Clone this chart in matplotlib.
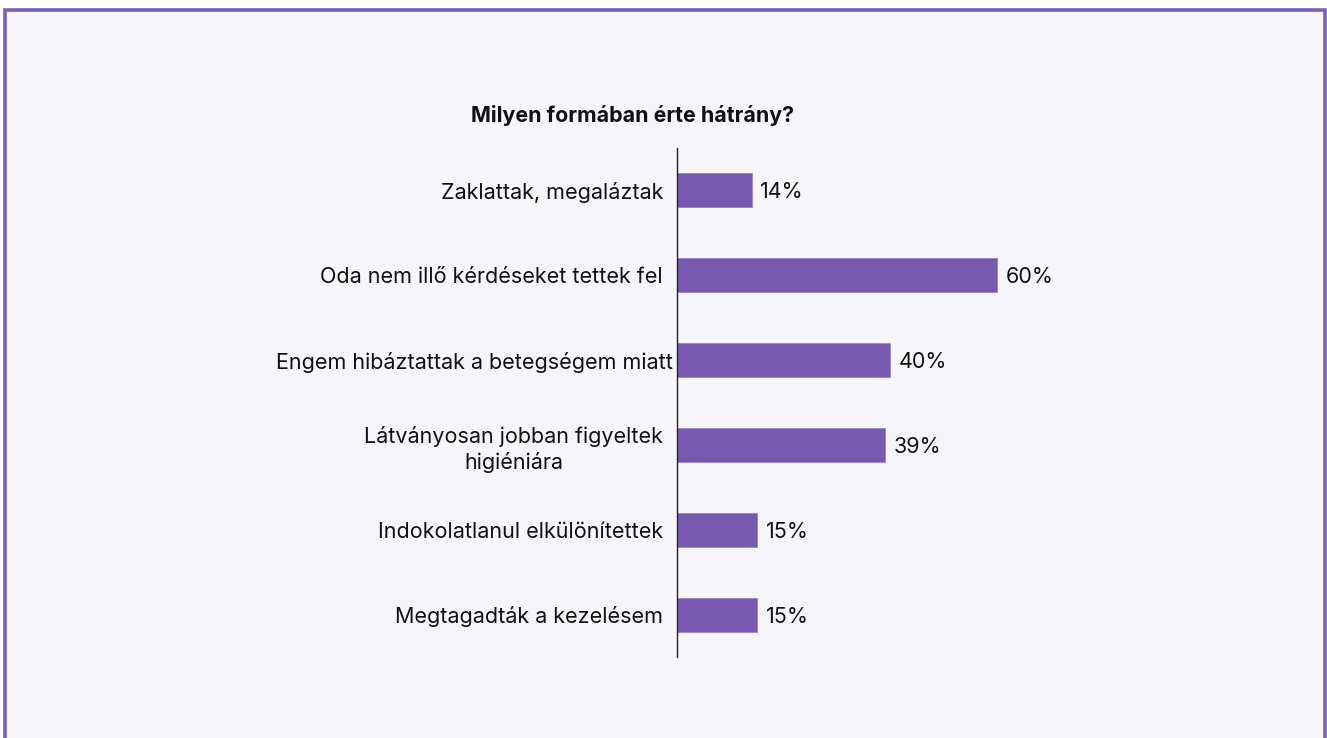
import matplotlib
matplotlib.use("Agg")
import matplotlib.pyplot as plt
from matplotlib.patches import Rectangle
from matplotlib.transforms import ScaledTranslation

categories = [
    "Zaklattak, megaláztak",
    "Oda nem illő kérdéseket tettek fel",
    "Engem hibáztattak a betegségem miatt",
    "Látványosan jobban figyeltek\nhigiéniára",
    "Indokolatlanul elkülönítettek",
    "Megtagadták a kezelésem",
]
values = [14, 60, 40, 39, 15, 15]
title = "Milyen formában érte hátrány?"

BG = "#f6f5fa"
PURPLE = "#7759b0"
FRAME = "#7b5fb6"

plt.rcParams["font.family"] = ["Inter", "DejaVu Sans"]

W, H = 1327, 738
fig = plt.figure(figsize=(W / 100, H / 100), dpi=100, facecolor="white")

# panel background with purple frame (left, top, right edges)
bg = fig.add_axes([0, 0, 1, 1], zorder=-10)
bg.set_axis_off()
bg.set_xlim(0, W)
bg.set_ylim(H, 0)
bg.add_patch(Rectangle((5, 10), 1320, H, facecolor=BG, edgecolor="none"))
bg.plot([5, 5, 1325, 1325], [H + 5, 10, 10, H + 5], color=FRAME, lw=2.6,
        solid_joinstyle="miter")

ax_left, ax_top, ax_bot = 677, 148, 657
px_per_unit = 5.33
xmax = 100
ax = fig.add_axes([ax_left / W, (H - ax_bot) / H, xmax * px_per_unit / W, (ax_bot - ax_top) / H])
ax.set_facecolor("none")

y = list(range(len(categories)))
ax.barh(y, values, height=0.4, color=PURPLE, edgecolor="#9a80cc", linewidth=0.6)
ax.set_xlim(0, xmax)
ax.set_ylim(len(categories) - 0.5, -0.5)

for yi, v in zip(y, values):
    ax.text(v + 1.6, yi, f"{v}%", va="center_baseline", ha="left", fontsize=15.5,
            color="#111111")

ax.set_yticks(y)
ax.set_yticklabels(categories, fontsize=15.5, color="#111111", ha="right",
                   multialignment="center", linespacing=1.3)
ax.tick_params(axis="y", length=0, pad=10)
# the widest single-line label sits closer to the axis line
longest = max(range(len(categories)),
              key=lambda i: max(len(part) for part in categories[i].split("\n")))
lbl = ax.get_yticklabels()[longest]
lbl.set_transform(lbl.get_transform() + ScaledTranslation(0.1, 0, fig.dpi_scale_trans))
ax.set_xticks([])
for s in ["top", "right", "bottom"]:
    ax.spines[s].set_visible(False)
ax.spines["left"].set_color("#222222")
ax.spines["left"].set_linewidth(1.0)

fig.text(633 / W, 1 - 115 / H, title, ha="center", va="center",
         fontsize=15.4, fontweight="bold", color="#111111")

fig.savefig("out.png", dpi=100, facecolor="white")
